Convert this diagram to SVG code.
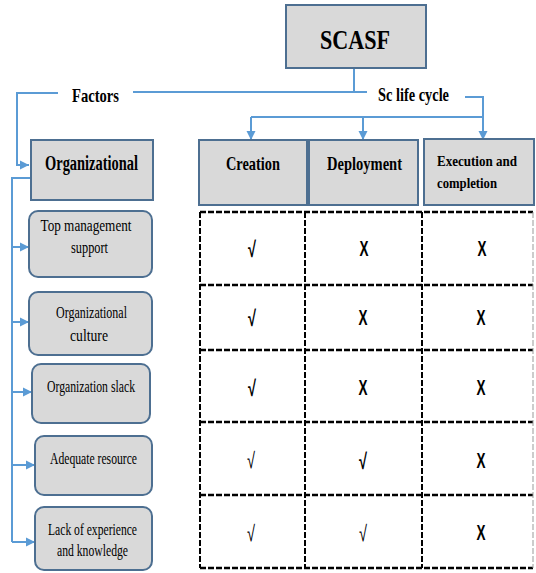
<svg xmlns="http://www.w3.org/2000/svg" width="536" height="573" viewBox="0 0 536 573">
  <style>
    .box { fill: #d9d9d9; stroke: #4d6f91; stroke-width: 2; }
    .sub { fill: #d9d9d9; stroke: #4d6f91; stroke-width: 2; }
    .link { fill: none; stroke: #5b9bd5; stroke-width: 2; }
    .grid { fill: none; stroke: #000; stroke-width: 2.5; stroke-dasharray: 6 2; }
    .gridv { fill: none; stroke: #000; stroke-width: 2; stroke-dasharray: 6 2; }
    .t { font-family: "Liberation Serif", "Times New Roman", serif; fill: #000; text-anchor: middle; }
    .b { font-weight: bold; }
    .m { font-family: "Liberation Sans", Arial, sans-serif; fill: #000; text-anchor: middle; }
  </style>
  <defs>
    <marker id="arrow" viewBox="0 0 10 10" refX="10" refY="5" markerWidth="9" markerHeight="10" markerUnits="userSpaceOnUse" orient="auto">
      <path d="M0 0 L10 5 L0 10 Z" fill="#5b9bd5"/>
    </marker>
  </defs>
  <rect width="536" height="573" fill="#fff"/>

  <!-- connectors -->
  <g id="connectors">
    <path class="link" d="M354 68 V92"/>
    <path class="link" d="M133 92 H367"/>
    <path class="link" d="M58 93 H17 V165 H29" marker-end="url(#arrow)"/>
    <path class="link" d="M465 97 H483 V140" marker-end="url(#arrow)"/>
    <path class="link" d="M251 117 H483"/>
    <path class="link" d="M251 117 V140" marker-end="url(#arrow)"/>
    <path class="link" d="M363 117 V140" marker-end="url(#arrow)"/>
    <path class="link" d="M31 178 H12 V542"/>
    <path class="link" d="M12 247 H29" marker-end="url(#arrow)"/>
    <path class="link" d="M12 322 H29" marker-end="url(#arrow)"/>
    <path class="link" d="M12 392 H32" marker-end="url(#arrow)"/>
    <path class="link" d="M12 465 H35" marker-end="url(#arrow)"/>
    <path class="link" d="M12 542 H35" marker-end="url(#arrow)"/>
  </g>

  <!-- branch labels -->
  <g id="label-factors">
    <text class="t b" x="95.5" y="102" font-size="19" textLength="47" lengthAdjust="spacingAndGlyphs">Factors</text>
  </g>
  <g id="label-lifecycle">
    <text class="t b" x="413.5" y="101" font-size="19" textLength="71" lengthAdjust="spacingAndGlyphs">Sc life cycle</text>
  </g>

  <!-- root -->
  <g id="scasf">
    <rect class="box" x="286" y="5" width="140" height="63"/>
    <text class="t b" x="355" y="49" font-size="27" textLength="70" lengthAdjust="spacingAndGlyphs">SCASF</text>
  </g>

  <!-- factor branch -->
  <g id="organizational">
    <rect class="box" x="31" y="140" width="122" height="60"/>
    <text class="t b" x="91.5" y="170" font-size="20" textLength="93" lengthAdjust="spacingAndGlyphs">Organizational</text>
  </g>
  <g id="top-management">
    <rect class="sub" x="29" y="211" width="123" height="66" rx="9"/>
    <text class="t" x="86" y="231" font-size="17" textLength="91" lengthAdjust="spacingAndGlyphs">Top management</text>
    <text class="t" x="89.5" y="253" font-size="17" textLength="37" lengthAdjust="spacingAndGlyphs">support</text>
  </g>
  <g id="org-culture">
    <rect class="sub" x="29" y="292" width="123" height="63" rx="9"/>
    <text class="t" x="91.5" y="318" font-size="17" textLength="71" lengthAdjust="spacingAndGlyphs">Organizational</text>
    <text class="t" x="89" y="341" font-size="17" textLength="38" lengthAdjust="spacingAndGlyphs">culture</text>
  </g>
  <g id="org-slack">
    <rect class="sub" x="32" y="364" width="118" height="59" rx="9"/>
    <text class="t" x="91" y="392" font-size="17" textLength="88" lengthAdjust="spacingAndGlyphs">Organization slack</text>
  </g>
  <g id="adequate-resource">
    <rect class="sub" x="35" y="436" width="117" height="59" rx="9"/>
    <text class="t" x="93.5" y="464" font-size="17" textLength="87" lengthAdjust="spacingAndGlyphs">Adequate resource</text>
  </g>
  <g id="lack-experience">
    <rect class="sub" x="35" y="507" width="117" height="63" rx="9"/>
    <text class="t" x="92.5" y="535" font-size="17" textLength="89" lengthAdjust="spacingAndGlyphs">Lack of experience</text>
    <text class="t" x="92.5" y="556" font-size="17" textLength="71" lengthAdjust="spacingAndGlyphs">and knowledge</text>
  </g>

  <!-- life-cycle stages -->
  <g id="creation">
    <rect class="box" x="199" y="140" width="108" height="65"/>
    <text class="t b" x="253" y="170" font-size="19" textLength="54" lengthAdjust="spacingAndGlyphs">Creation</text>
  </g>
  <g id="deployment">
    <rect class="box" x="309" y="140" width="109" height="65"/>
    <text class="t b" x="364.5" y="170" font-size="19" textLength="75" lengthAdjust="spacingAndGlyphs">Deployment</text>
  </g>
  <g id="execution">
    <rect class="box" x="424" y="139" width="110" height="66" stroke="#3b5f82" stroke-width="2.5"/>
    <text class="t b" x="477" y="166" font-size="15" textLength="80" lengthAdjust="spacingAndGlyphs">Execution and</text>
    <text class="t b" x="467" y="188" font-size="15" textLength="60" lengthAdjust="spacingAndGlyphs">completion</text>
  </g>

  <!-- matrix -->
  <g id="matrix">
    <path class="grid" d="M200 212 H533 M200 285 H533 M200 350 H533 M200 422 H533 M200 495 H533 M200 568 H533"/>
    <path class="gridv" d="M200 212 V568 M305 212 V568 M422 212 V568"/>
    <path d="M533 212 V568" fill="none" stroke="#999" stroke-width="1" stroke-dasharray="6 2"/>

    <!-- row 1 -->
    <text class="m b" x="252" y="257" font-size="22" textLength="8" lengthAdjust="spacingAndGlyphs">√</text>
    <text class="m b" x="364" y="256" font-size="22" textLength="9" lengthAdjust="spacingAndGlyphs">X</text>
    <text class="m b" x="482" y="256" font-size="22" textLength="9" lengthAdjust="spacingAndGlyphs">X</text>
    <!-- row 2 -->
    <text class="m b" x="252" y="326" font-size="22" textLength="8" lengthAdjust="spacingAndGlyphs">√</text>
    <text class="m b" x="363" y="325" font-size="22" textLength="9" lengthAdjust="spacingAndGlyphs">X</text>
    <text class="m b" x="481" y="325" font-size="22" textLength="9" lengthAdjust="spacingAndGlyphs">X</text>
    <!-- row 3 -->
    <text class="m b" x="252" y="396" font-size="22" textLength="8" lengthAdjust="spacingAndGlyphs">√</text>
    <text class="m b" x="363" y="395" font-size="22" textLength="9" lengthAdjust="spacingAndGlyphs">X</text>
    <text class="m b" x="481" y="395" font-size="22" textLength="9" lengthAdjust="spacingAndGlyphs">X</text>
    <!-- row 4 -->
    <text class="m" x="251" y="468" font-size="22" textLength="8" lengthAdjust="spacingAndGlyphs">√</text>
    <text class="m b" x="363" y="469" font-size="22" textLength="8" lengthAdjust="spacingAndGlyphs">√</text>
    <text class="m b" x="481" y="468" font-size="22" textLength="9" lengthAdjust="spacingAndGlyphs">X</text>
    <!-- row 5 -->
    <text class="m" x="251" y="541" font-size="22" textLength="8" lengthAdjust="spacingAndGlyphs">√</text>
    <text class="m" x="363" y="541" font-size="22" textLength="8" lengthAdjust="spacingAndGlyphs">√</text>
    <text class="m b" x="481" y="540" font-size="22" textLength="9" lengthAdjust="spacingAndGlyphs">X</text>
  </g>
</svg>
